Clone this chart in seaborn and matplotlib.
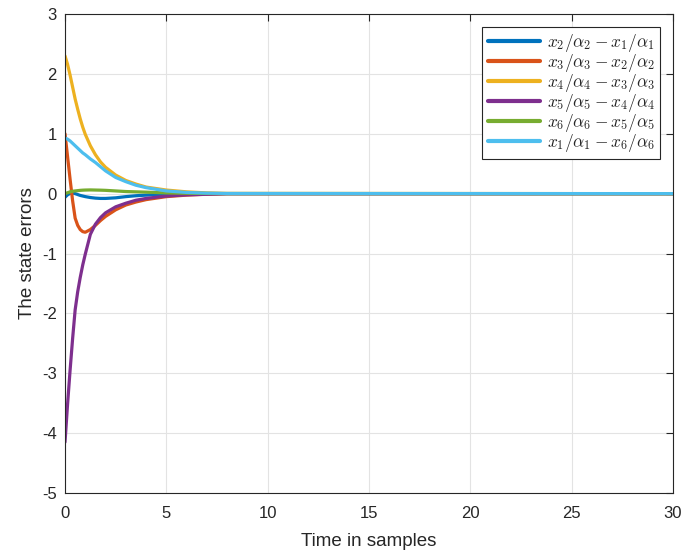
import matplotlib
matplotlib.use("Agg")
import matplotlib.pyplot as plt
import numpy as np
import pandas as pd
import seaborn as sns

# Sample instants
t = [0, 0.125, 0.25, 0.375, 0.5, 0.625, 0.75, 0.875, 1.0, 1.25, 1.5, 1.75,
     2.0, 2.5, 3.0, 3.5, 4.0, 5.0, 6.0, 7.0, 8.0, 30.0]

# State error trajectories
e21 = [-0.06, -0.02, 0.005, 0.01, 0.0, -0.015, -0.03, -0.04, -0.05, -0.065, -0.075,
       -0.08, -0.08, -0.07, -0.05, -0.035, -0.025, -0.01, -0.004, -0.001, 0.0, 0.0]
e32 = [1.00, 0.62, 0.24, -0.12, -0.41, -0.53, -0.60, -0.635, -0.645, -0.60, -0.53,
       -0.45, -0.38, -0.27, -0.19, -0.14, -0.10, -0.05, -0.025, -0.01, 0.0, 0.0]
e43 = [2.30, 2.16, 1.98, 1.78, 1.58, 1.41, 1.25, 1.11, 0.99, 0.80, 0.65, 0.53,
       0.44, 0.31, 0.22, 0.16, 0.11, 0.06, 0.03, 0.012, 0.005, 0.0]
e54 = [-4.15, -3.52, -2.95, -2.42, -1.94, -1.64, -1.40, -1.19, -1.01, -0.68, -0.51,
       -0.40, -0.32, -0.22, -0.16, -0.11, -0.08, -0.04, -0.02, -0.01, 0.0, 0.0]
e65 = [0.0, 0.015, 0.03, 0.04, 0.045, 0.05, 0.055, 0.058, 0.06, 0.062, 0.06, 0.058,
       0.055, 0.045, 0.035, 0.03, 0.025, 0.012, 0.006, 0.003, 0.0, 0.0]
e16 = [0.93, 0.91, 0.88, 0.84, 0.80, 0.76, 0.72, 0.68, 0.65, 0.58, 0.52, 0.45,
       0.38, 0.27, 0.20, 0.14, 0.10, 0.045, 0.02, 0.008, 0.003, 0.0]

labels = [
    r"$x_2/\alpha_2-x_1/\alpha_1$",
    r"$x_3/\alpha_3-x_2/\alpha_2$",
    r"$x_4/\alpha_4-x_3/\alpha_3$",
    r"$x_5/\alpha_5-x_4/\alpha_4$",
    r"$x_6/\alpha_6-x_5/\alpha_5$",
    r"$x_1/\alpha_1-x_6/\alpha_6$",
]
colors = ["#0072BD", "#D95319", "#EDB120", "#7E2F8E", "#77AC30", "#4DBEEE"]

x_ticks = [0, 5, 10, 15, 20, 25, 30]
y_ticks = [-5, -4, -3, -2, -1, 0, 1, 2, 3]

sns.set_theme(style="white")
plt.rcParams["font.family"] = ["Liberation Sans", "DejaVu Sans"]
plt.rcParams["mathtext.fontset"] = "cm"
plt.rcParams["axes.unicode_minus"] = False

series = [e21, e32, e43, e54, e65, e16]
df = pd.concat(
    [pd.DataFrame({"t": t, "e": s, "name": lab}) for s, lab in zip(series, labels)],
    ignore_index=True,
)

fig = plt.figure(figsize=(6.83, 5.54), dpi=100)
ax = fig.add_axes([0.0952, 0.1101, 0.8902, 0.8646])

sns.lineplot(data=df, x="t", y="e", hue="name", hue_order=labels,
             palette=colors, linewidth=2.3, ax=ax, sort=False)

ax.set_xlim(0, 30)
ax.set_ylim(-5, 3)
ax.set_xticks(x_ticks)
ax.set_yticks(y_ticks)
ax.set_xticklabels([str(v) for v in x_ticks])
ax.set_yticklabels([str(v) for v in y_ticks])
ax.grid(True, color="#e3e3e3", linewidth=0.8)
ax.set_axisbelow(True)
for sp in ax.spines.values():
    sp.set_color("#262626")
    sp.set_linewidth(0.8)
    sp.set_visible(True)
ax.tick_params(direction="in", length=5, width=0.8, colors="#262626",
               labelsize=12, top=True, right=True)
ax.tick_params(axis="x", pad=9)
ax.tick_params(axis="y", pad=6)
ax.set_xlabel("Time in samples", fontsize=13.5, color="#262626", labelpad=9)
ax.set_ylabel("The state errors", fontsize=13.5, color="#262626", labelpad=4)

leg = ax.legend(loc="upper right", fontsize=12.5, frameon=True, fancybox=False,
                edgecolor="#262626", framealpha=1, handlelength=3.0,
                labelspacing=-0.12, borderpad=0.3, handletextpad=0.4,
                borderaxespad=0.75)
leg.get_frame().set_linewidth(0.8)
for h in leg.get_lines():
    h.set_linewidth(3)

fig.savefig("out.png", dpi=100)
